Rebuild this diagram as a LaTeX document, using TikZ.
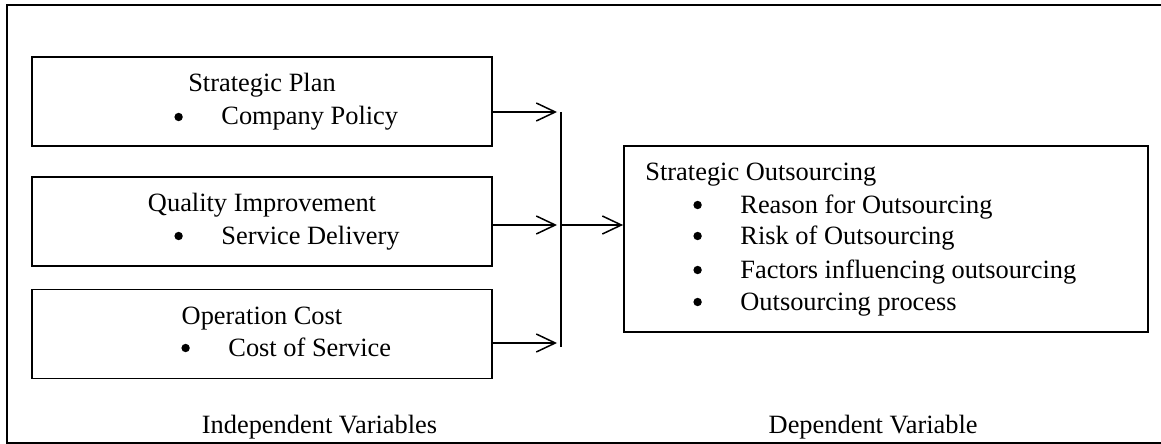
\documentclass[tikz,border=0pt]{standalone}
\usepackage{fontspec}
\setmainfont{Liberation Serif}
\usetikzlibrary{arrows.meta}
\newcommand{\itembullet}[1]{\makebox[23.5pt][l]{\tikz[baseline=0pt]\fill (2.1pt,4pt) circle[radius=2.1pt];}#1}

\begin{document}
\begin{tikzpicture}[x=0.5pt,y=-0.5pt,
    varbox/.style={draw,line width=0.9pt,minimum width=230pt,minimum height=44.5pt,inner sep=0pt},
    outbox/.style={draw,line width=0.9pt,minimum width=262pt,minimum height=93pt,inner sep=0pt},
    lbl/.style={inner sep=0pt,anchor=base,font=\fontsize{13.2}{16}\selectfont},
    feed/.style={line width=0.75pt,-{Straight Barb[length=9.5pt,width=9pt]}}]
  \useasboundingbox (0,0) rectangle (1161,444);
  % outer frame
  \draw[line width=0.9pt] (1170,5) -| (7,443) -- (1170,443);

  % independent variables
  \node[varbox] (plan) at (262,101.5) {};
  \node[lbl] (planT) at (262,92) {Strategic Plan};
  \node[lbl,anchor=base west] (planI) at (174,125) {\itembullet{Company Policy}};

  \node[varbox] (qual) at (262,221.5) {};
  \node[lbl] (qualT) at (262,211) {Quality Improvement};
  \node[lbl,anchor=base west] (qualI) at (174,244) {\itembullet{Service Delivery}};

  \node[varbox] (cost) at (262,334) {};
  \node[lbl] (costT) at (262,324) {Operation Cost};
  \node[lbl,anchor=base west] (costI) at (181,356) {\itembullet{Cost of Service}};

  % dependent variable
  \node[outbox] (outs) at (886,239) {};
  \node[lbl,anchor=base west] (outsT) at (645,180) {Strategic Outsourcing};
  \node[lbl,anchor=base west] (outs1) at (693,213) {\itembullet{Reason for Outsourcing}};
  \node[lbl,anchor=base west] (outs2) at (693,244) {\itembullet{Risk of Outsourcing}};
  \node[lbl,anchor=base west] (outs3) at (693,278) {\itembullet{Factors influencing outsourcing}};
  \node[lbl,anchor=base west] (outs4) at (693,310) {\itembullet{Outsourcing process}};

  % connectors
  \coordinate (in1) at (557,112);
  \coordinate (in2) at (557,225);
  \coordinate (in3) at (557,343);
  \draw[feed] (in1 -| plan.east) -- (in1);
  \draw[feed] (in2 -| qual.east) -- (in2);
  \draw[feed] (in3 -| cost.east) -- (in3);
  \coordinate (bartop) at (561,112);
  \coordinate (barbot) at (561,347);
  \coordinate (barmid) at (561,225);
  \draw[line width=0.75pt] (bartop) -- (barbot);
  \draw[feed] (barmid) -- (barmid -| outs.west);

  % captions
  \node[lbl] (indep) at (319.5,433) {Independent Variables};
  \node[lbl,anchor=base east] (dep) at (978,433) {Dependent Variable};
\end{tikzpicture}
\end{document}
